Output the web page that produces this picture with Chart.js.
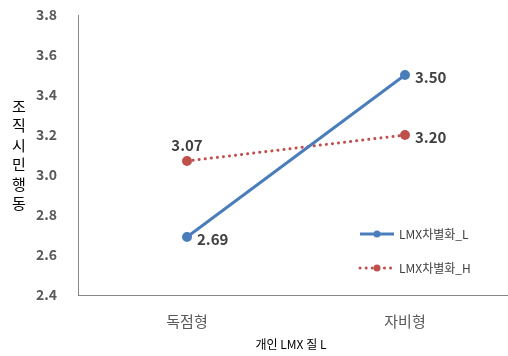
<!DOCTYPE html>
<html>
<head>
<meta charset="utf-8">
<script src="https://cdn.jsdelivr.net/npm/chart.js@4/dist/chart.umd.min.js"></script>
<style>
  html, body { margin: 0; padding: 0; background: #fff; }
  #wrap { width: 508px; height: 356px; position: relative; overflow: hidden; }
</style>
</head>
<body>
<div id="wrap"><canvas id="c" width="508" height="356"></canvas></div>
<script>
const categories = ['독점형', '자비형'];
const seriesNames = ['LMX차별화_L', 'LMX차별화_H'];
const valuesL = [2.69, 3.50];
const valuesH = [3.07, 3.20];
const yTitle = '조직시민행동';
const xTitle = '개인 LMX 질 L';

const FONT = "'Noto Sans CJK KR', 'Noto Sans', sans-serif";
const PLOT_OVERHANG = 6; // the plot area runs slightly past the right canvas edge

// Let the x scale (and plot area) extend a few pixels beyond the canvas
const widenPlot = {
  id: 'widenPlot',
  afterLayout(chart) {
    const x = chart.scales.x;
    x.right += PLOT_OVERHANG;
    x.width = x.right - x.left;
    x.configure();
    chart.chartArea.right = x.right;
    chart.chartArea.width = x.width;
  }
};

// Vertical (stacked) y-axis title, x-axis title, value labels and inset legend
const decorations = {
  id: 'decorations',
  afterDatasetsDraw(chart) {
    const ctx = chart.ctx;
    ctx.save();

    // stacked y title
    ctx.fillStyle = '#000';
    ctx.font = '15px ' + FONT;
    ctx.textAlign = 'center';
    ctx.textBaseline = 'middle';
    const chars = Array.from(yTitle);
    const lh = 19.5;
    const cy = 155;
    chars.forEach((ch, i) => {
      ctx.fillText(ch, 19, cy + (i - (chars.length - 1) / 2) * lh);
    });

    // x title
    ctx.font = '12px ' + FONT;
    ctx.fillText(xTitle, 291, 344);

    // value labels
    ctx.font = 'bold 15px ' + FONT;
    ctx.fillStyle = '#404040';
    chart.data.datasets.forEach((ds, di) => {
      const meta = chart.getDatasetMeta(di);
      meta.data.forEach((pt, i) => {
        const txt = ds.data[i].toFixed(2);
        if (ds.labelPos[i] === 'top') {
          ctx.textAlign = 'center';
          ctx.textBaseline = 'bottom';
          ctx.fillText(txt, pt.x, pt.y - 8);
        } else {
          ctx.textAlign = 'left';
          ctx.textBaseline = 'middle';
          ctx.fillText(txt, pt.x + 10, pt.y + 2);
        }
      });
    });

    // inset legend
    ctx.font = '12px ' + FONT;
    ctx.textAlign = 'left';
    ctx.textBaseline = 'middle';
    const lx0 = 360, lx1 = 394;
    const rows = [234, 268];
    chart.data.datasets.forEach((ds, di) => {
      const y = rows[di];
      ctx.strokeStyle = ds.borderColor;
      ctx.lineWidth = ds.borderWidth;
      ctx.setLineDash(ds.borderDash || []);
      ctx.lineCap = ds.borderCapStyle || 'butt';
      ctx.beginPath();
      ctx.moveTo(lx0, y);
      ctx.lineTo(lx1, y);
      ctx.stroke();
      ctx.setLineDash([]);
      ctx.fillStyle = ds.pointBackgroundColor;
      ctx.beginPath();
      ctx.arc((lx0 + lx1) / 2, y, 3.5, 0, Math.PI * 2);
      ctx.fill();
      ctx.fillStyle = '#404040';
      ctx.fillText(ds.label, 399, y);
    });

    ctx.restore();
  }
};

new Chart(document.getElementById('c'), {
  type: 'line',
  data: {
    labels: categories,
    datasets: [
      {
        label: seriesNames[0],
        data: valuesL,
        borderColor: '#4A7EBB',
        backgroundColor: '#4A7EBB',
        pointBackgroundColor: '#4A7EBB',
        pointBorderColor: '#4A7EBB',
        borderWidth: 3,
        pointRadius: 3.5,
        tension: 0,
        labelPos: ['right', 'right']
      },
      {
        label: seriesNames[1],
        data: valuesH,
        borderColor: '#C0504D',
        backgroundColor: '#C0504D',
        pointBackgroundColor: '#C0504D',
        pointBorderColor: '#C0504D',
        borderWidth: 3,
        borderDash: [0.1, 6],
        borderCapStyle: 'round',
        pointRadius: 3.5,
        tension: 0,
        labelPos: ['top', 'right']
      }
    ]
  },
  options: {
    responsive: false,
    animation: false,
    layout: { autoPadding: false, padding: { top: 15, right: 0, left: 0, bottom: 0 } },
    plugins: { legend: { display: false }, tooltip: { enabled: false } },
    scales: {
      x: {
        offset: true,
        grid: { display: false, drawTicks: false },
        border: { display: true, color: '#868686', width: 1 },
        ticks: { color: '#595959', font: { family: FONT, size: 15 }, padding: 17 },
        afterFit(scale) {
          scale.height = 61;
          scale.paddingLeft = 0;
          scale.paddingRight = 0;
        }
      },
      y: {
        min: 2.4,
        max: 3.8,
        grid: { display: false, drawTicks: false },
        border: { display: true, color: '#868686', width: 1 },
        ticks: {
          stepSize: 0.2,
          color: '#595959',
          font: { family: FONT, size: 14, weight: 'bold' },
          padding: 21,
          callback: v => Number(v).toFixed(1)
        },
        afterFit(scale) {
          scale.width = 78;
          scale.paddingTop = 0;
          scale.paddingBottom = 0;
        }
      }
    }
  },
  plugins: [widenPlot, decorations]
});
</script>
</body>
</html>
